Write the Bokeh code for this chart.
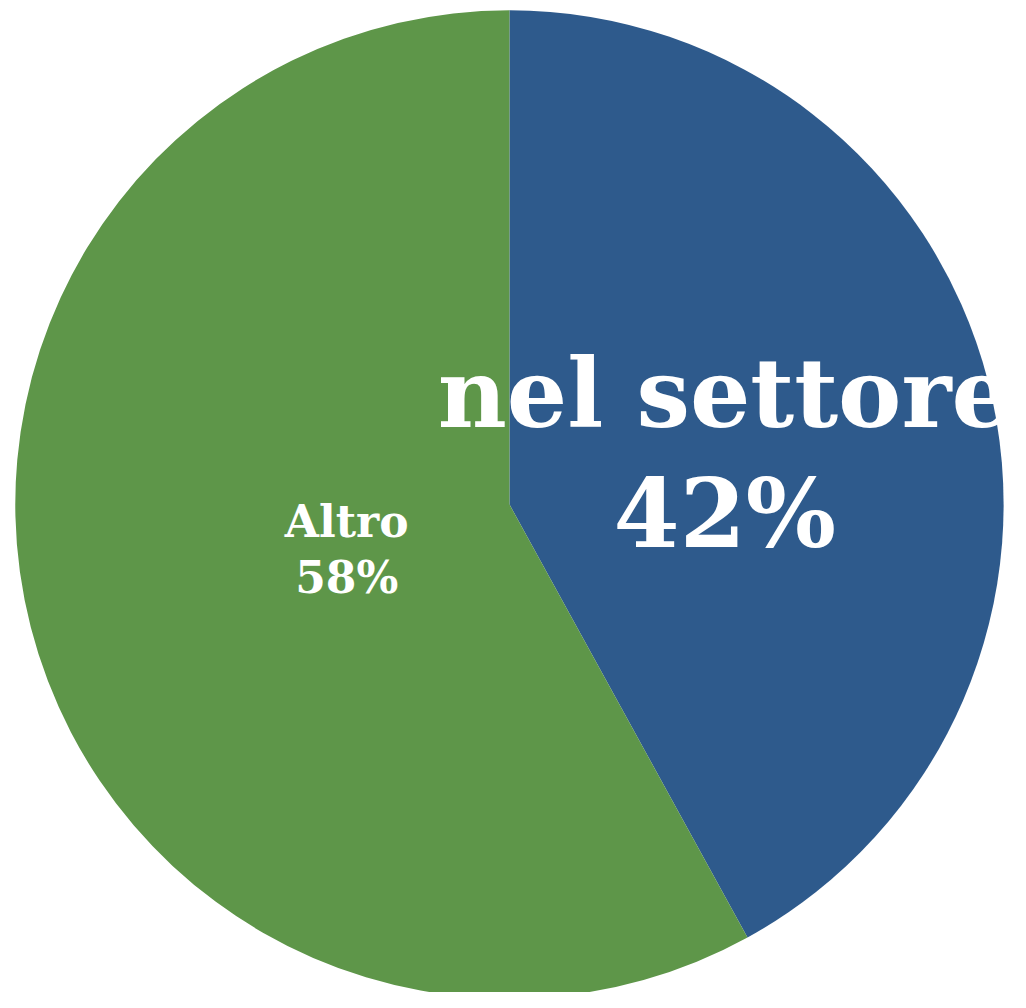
import math
from bokeh.plotting import figure
from bokeh.models import Range1d
from bokeh.core.properties import value
from bokeh.embed import file_html
from bokeh.resources import INLINE

# ---- data ----
categories = ["nel settore", "Altro"]
shares = [42, 58]
colors = ["#2E5A8C", "#5E9649"]

# ---- layout / style (coordinates in a 1026 x 1008 canvas space) ----
W, H = 1010, 992
CW, CH = 1026, 1008
cx, cy, r = 517, CH - 512, 502
label_frac = [0.45, 0.34]          # radial position of each label
name_size = ["95px", "44px"]
pct_size = ["95px", "44px"]
name_dy = [56, 25]                 # up from anchor
pct_dy = [-65, -32]                # down from anchor

p = figure(width=W, height=H, output_backend="svg", toolbar_location=None,
           x_range=Range1d(0, CW), y_range=Range1d(0, CH),
           min_border=0, outline_line_color=None)
p.axis.visible = False
p.grid.visible = False
p.background_fill_color = "white"
p.border_fill_color = "white"

total = float(sum(shares))
cum = 0.0
angles = []
for i, v in enumerate(shares):
    a0 = math.pi / 2 - 2 * math.pi * cum / total
    a1 = math.pi / 2 - 2 * math.pi * (cum + v) / total
    angles.append((a0, a1))
    p.wedge(x=cx, y=cy, radius=r, start_angle=a0, end_angle=a1,
            direction="clock", fill_color=colors[i], line_color=None)
    cum += v

for i, (cat, v) in enumerate(zip(categories, shares)):
    a0, a1 = angles[i]
    mid = (a0 + a1) / 2
    ax = cx + label_frac[i] * r * math.cos(mid)
    ay = cy + label_frac[i] * r * math.sin(mid)
    p.text(x=[ax], y=[ay + name_dy[i]], text=[cat], text_align="center",
           text_baseline="alphabetic", text_color="white",
           text_font=value("DejaVu Serif"), text_font_style="bold",
           text_font_size=name_size[i])
    p.text(x=[ax], y=[ay + pct_dy[i]], text=[f"{v}%"], text_align="center",
           text_baseline="alphabetic", text_color="white",
           text_font=value("DejaVu Serif"), text_font_style="bold",
           text_font_size=pct_size[i])

open("out.html", "w").write(file_html(p, INLINE))
